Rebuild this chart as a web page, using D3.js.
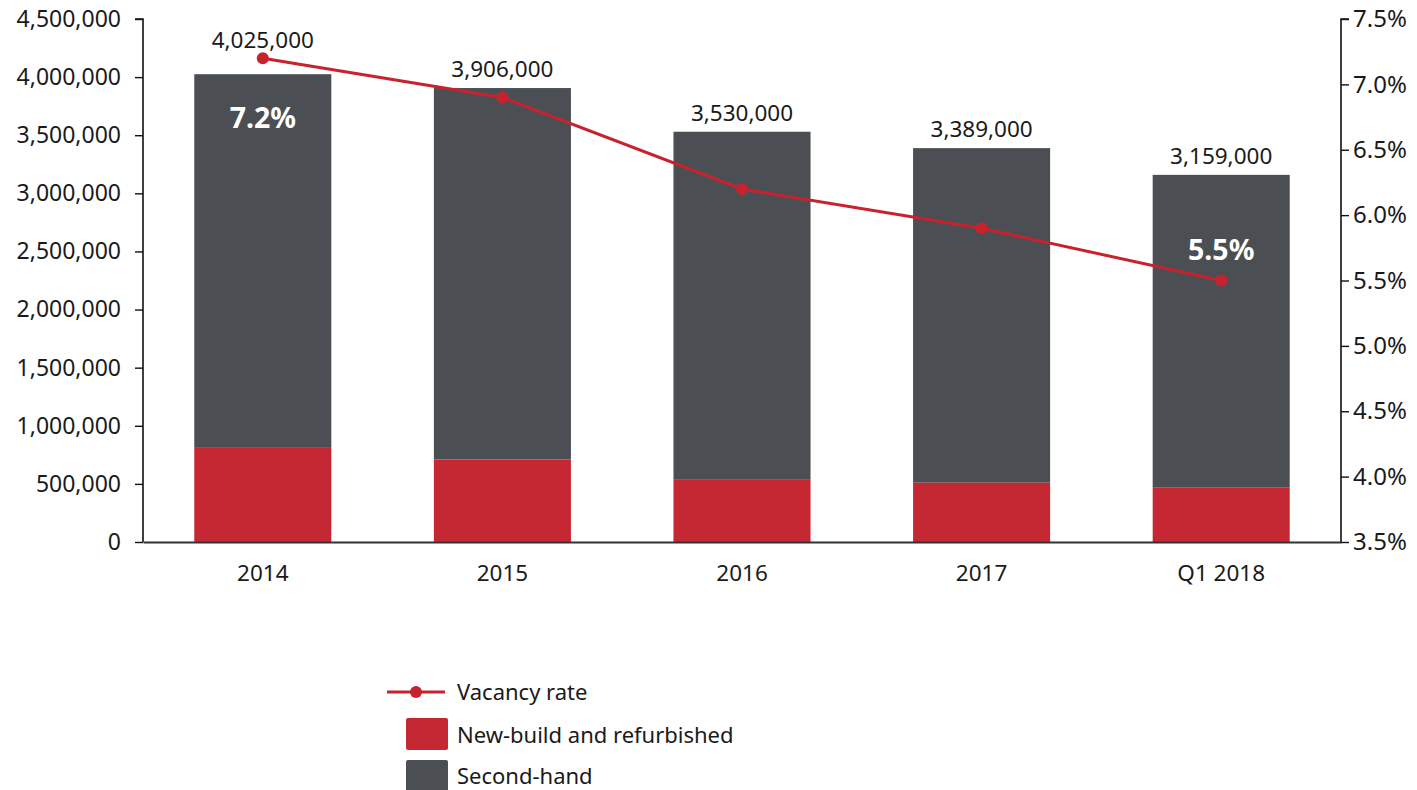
<!DOCTYPE html>
<html>
<head>
<meta charset="utf-8">
<script src="https://cdn.jsdelivr.net/npm/d3@7"></script>
<style>
  html, body { margin: 0; padding: 0; background: #fff; }
  svg { display: block; }
  text { font-family: "Noto Sans", "DejaVu Sans", sans-serif; fill: #1a1a1a; }
</style>
</head>
<body>
<svg id="chart" width="1417" height="790"></svg>
<script>
// Office take-up stock by period (sq m) and vacancy rate (%)
const categories = ["2014", "2015", "2016", "2017", "Q1 2018"];
const totals = [4025000, 3906000, 3530000, 3389000, 3159000];
const newBuild = [810000, 710000, 535000, 510000, 467000];
const secondHand = totals.map((t, i) => t - newBuild[i]);
const vacancy = [7.2, 6.9, 6.2, 5.9, 5.5];
const leftTicks = [0, 500000, 1000000, 1500000, 2000000, 2500000, 3000000, 3500000, 4000000, 4500000];
const rightTicks = [3.5, 4.0, 4.5, 5.0, 5.5, 6.0, 6.5, 7.0, 7.5];
const highlighted = [0, 4]; // vacancy values printed inside the bars

const RED = "#c62833";
const LINE_RED = "#c8222f";
const GREY = "#4b4f54";
const FS = 22.5;

const svg = d3.select("#chart");
const m = { left: 143, right: 1341, top: 19, bottom: 542 };

const x = d3.scaleBand().domain(categories).range([m.left, m.right])
  .paddingInner(0.428).paddingOuter(0.214);
const yL = d3.scaleLinear().domain([0, 4500000]).range([m.bottom, m.top]);
const yR = d3.scaleLinear().domain([3.5, 7.5]).range([m.bottom, m.top]);
const fmt = d3.format(",");

// stacked bars
const rows = categories.map((c, i) => ({ c, nb: newBuild[i], sh: secondHand[i], total: totals[i], v: vacancy[i] }));
const g = svg.append("g");
g.selectAll("rect.sh").data(rows).join("rect")
  .attr("x", d => x(d.c)).attr("width", x.bandwidth())
  .attr("y", d => yL(d.nb + d.sh)).attr("height", d => yL(d.nb) - yL(d.nb + d.sh))
  .attr("fill", GREY);
g.selectAll("rect.nb").data(rows).join("rect")
  .attr("x", d => x(d.c)).attr("width", x.bandwidth())
  .attr("y", d => yL(d.nb)).attr("height", d => yL(0) - yL(d.nb))
  .attr("fill", RED);

// left axis
const axL = svg.append("g").attr("transform", `translate(${m.left},0)`)
  .call(d3.axisLeft(yL).tickValues(leftTicks).tickFormat(fmt).tickSize(8).tickPadding(14));
// right axis
const axR = svg.append("g").attr("transform", `translate(${m.right},0)`)
  .call(d3.axisRight(yR).tickValues(rightTicks).tickFormat(d => d.toFixed(1) + "%").tickSize(8).tickPadding(4));
[axL, axR].forEach(a => {
  a.select(".domain").attr("stroke", "#111").attr("stroke-width", 1.6);
  a.selectAll(".tick line").attr("stroke", "#111").attr("stroke-width", 1.4);
  a.selectAll(".tick text").attr("font-size", FS + 0.5).attr("fill", "#1a1a1a")
    .attr("font-family", "'Noto Sans', sans-serif");
});
axR.selectAll(".tick text").attr("font-size", FS + 1.5);
axL.select(".domain").attr("d", `M-8,${m.top}H0V${m.bottom}`);
axR.select(".domain").attr("d", `M8,${m.top}H0V${m.bottom}`);

// bottom axis
const axB = svg.append("g").attr("transform", `translate(0,${m.bottom})`)
  .call(d3.axisBottom(x).tickSize(0).tickPadding(23));
axB.select(".domain").attr("stroke", "#333").attr("stroke-width", 2);
axB.selectAll(".tick text").attr("font-size", FS).attr("fill", "#1a1a1a");

// vacancy line
const cx = d => x(d.c) + x.bandwidth() / 2;
svg.append("path").datum(rows)
  .attr("fill", "none").attr("stroke", LINE_RED).attr("stroke-width", 3)
  .attr("d", d3.line().x(cx).y(d => yR(d.v)));
svg.selectAll("circle.pt").data(rows).join("circle")
  .attr("cx", cx).attr("cy", d => yR(d.v)).attr("r", 6).attr("fill", LINE_RED);

// total labels above bars (kept clear of the line markers)
svg.selectAll("text.total").data(rows).join("text")
  .attr("x", cx)
  .attr("y", d => Math.min(yL(d.total) - 18, yR(d.v) - 17) + 7)
  .attr("text-anchor", "middle").attr("font-size", FS)
  .text(d => fmt(d.total));

// vacancy values inside selected bars
svg.selectAll("text.vac").data(highlighted.map(i => rows[i])).join("text")
  .attr("x", cx)
  .attr("y", (d, i) => i === 0 ? yL(d.total) + 54 : yR(d.v) - 21)
  .attr("text-anchor", "middle").attr("font-size", 28.5).attr("font-weight", "bold")
  .style("fill", "#fff")
  .text(d => d.v.toFixed(1) + "%");

// legend
const lg = svg.append("g");
lg.append("line").attr("x1", 387).attr("x2", 445).attr("y1", 692).attr("y2", 692)
  .attr("stroke", LINE_RED).attr("stroke-width", 3);
lg.append("circle").attr("cx", 416).attr("cy", 692).attr("r", 6).attr("fill", LINE_RED);
lg.append("text").attr("x", 457).attr("y", 700).attr("font-size", FS - 0.5).text("Vacancy rate");
lg.append("rect").attr("x", 406).attr("y", 718).attr("width", 42).attr("height", 32).attr("rx", 2).attr("fill", RED);
lg.append("text").attr("x", 457).attr("y", 743).attr("font-size", FS - 0.5).text("New-build and refurbished");
lg.append("rect").attr("x", 406).attr("y", 760).attr("width", 42).attr("height", 32).attr("rx", 2).attr("fill", GREY);
lg.append("text").attr("x", 457).attr("y", 784).attr("font-size", FS - 0.5).text("Second-hand");
</script>
</body>
</html>
